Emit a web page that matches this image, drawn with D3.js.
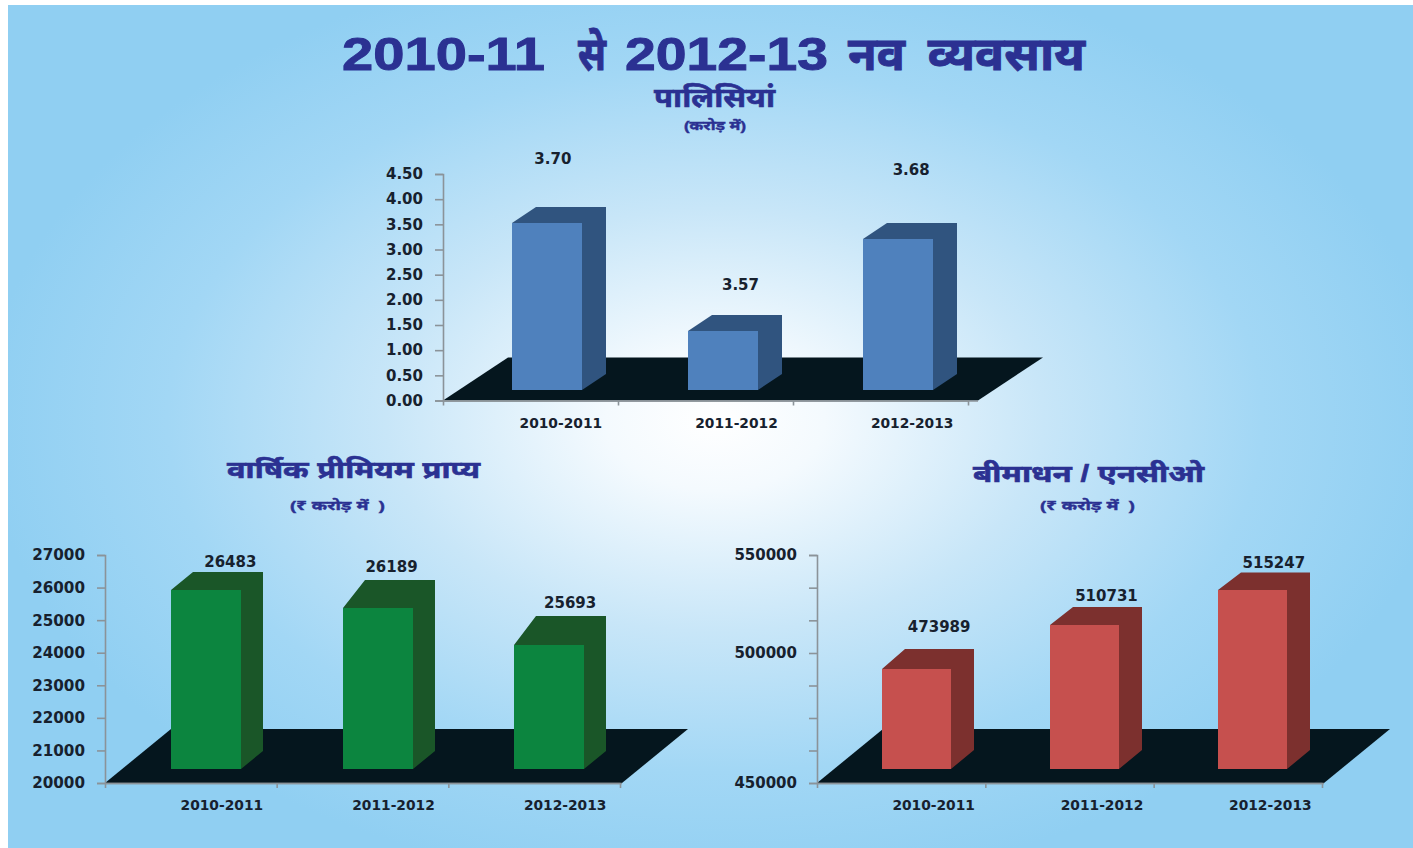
<!DOCTYPE html>
<html>
<head>
<meta charset="utf-8">
<script src="https://cdn.jsdelivr.net/npm/d3@7/dist/d3.min.js"></script>
<style>
html,body{margin:0;padding:0;background:#fff;overflow:hidden}
svg{display:block}
</style>
</head>
<body>
<svg id="chart" width="1413" height="848"></svg>
<script>
const categories = ["2010-2011", "2011-2012", "2012-2013"];

const policyBars = [3.52, 1.39, 3.21];
const policyLabels = ["3.70", "3.57", "3.68"];
const policyLabelLevels = [4.79, 2.29, 4.57];
const policyTicks = [0, 0.5, 1, 1.5, 2, 2.5, 3, 3.5, 4, 4.5];

const premiumBars = [25925, 25373, 24237];
const premiumLabels = ["26483", "26189", "25693"];
const premiumLabelLevels = [26755, 26601, 25496];
const premiumTicks = [20000, 21000, 22000, 23000, 24000, 25000, 26000, 27000];

const saBars = [493846, 514286, 532143];
const saLabels = ["473989", "510731", "515247"];
const saLabelLevels = [513000, 529000, 545500];
const saTicks = [450000, 462500, 475000, 487500, 500000, 516667, 533333, 550000];
const saTickLabels = [450000, 500000, 550000];

const svg = d3.select("#chart");
const devFont = "'Noto Sans','Noto Sans Devanagari','Lohit Devanagari','Mangal','Liberation Sans',sans-serif";
const numFont = "'DejaVu Sans',sans-serif";
const ink = "#17212e";
const titleBlue = "#2b3192";

const defs = svg.append("defs");
const grad = defs.append("radialGradient")
  .attr("id", "bg").attr("gradientUnits", "userSpaceOnUse")
  .attr("cx", 0).attr("cy", 0).attr("r", 1)
  .attr("gradientTransform", "translate(715,420) scale(730,470)");
[[0, "#ffffff"], [0.15, "#f4fafe"], [0.45, "#c8e6f8"], [0.75, "#a2d7f5"], [1, "#90cff2"]]
  .forEach(([o, c]) => grad.append("stop").attr("offset", o).attr("stop-color", c));
svg.append("rect").attr("x", 8).attr("y", 5).attr("width", 1405).attr("height", 843).attr("fill", "url(#bg)");

function drawChart(o) {
  const g = svg.append("g");
  const y = d3.scaleLinear().domain(o.yDomain).range(o.yRange);
  const x = d3.scaleBand().domain(categories).range(o.xRange).paddingInner(0.6).paddingOuter(0.3);
  const [x0, x1] = o.xRange;
  const yb = y.range()[0];
  const barW = Math.round(x.bandwidth()) + o.barExtra;

  // floor
  g.append("path")
    .attr("d", d3.line()([[x0, yb], [x0 + o.floorDx, yb - o.floorDy], [x1 + o.floorDx + o.floorExtra, yb - o.floorDy], [x1 + o.floorExtra, yb]]) + "Z")
    .attr("fill", "#05161e");

  // bars
  const bars = g.selectAll("g.bar").data(o.bars).join("g").attr("class", "bar");
  const left = (d, i) => Math.round(x(categories[i]) + o.barShift);
  const right = (d, i) => left(d, i) + barW;
  const base = Math.round(y(o.baseValue));
  const top = d => Math.round(y(d));
  bars.append("path").attr("fill", o.side)
    .attr("d", (d, i) => d3.line()([[left(d, i), top(d)], [left(d, i) + o.dx, top(d) - o.topDepth[i]], [right(d, i) + o.dx, top(d) - o.topDepth[i]], [right(d, i) + o.dx, base - o.dy], [right(d, i), base], [right(d, i), top(d)]]) + "Z");
  bars.append("rect").attr("fill", o.front)
    .attr("x", left).attr("y", top).attr("width", barW).attr("height", d => base - top(d));

  // value labels
  g.selectAll("text.val").data(o.labels).join("text").attr("class", "val")
    .attr("x", (d, i) => x(categories[i]) + x.bandwidth() / 2 + o.valShift[i])
    .attr("y", (d, i) => y(o.labelLevels[i]))
    .attr("text-anchor", "middle").attr("dominant-baseline", "middle")
    .attr("font-family", numFont).attr("font-weight", 700).attr("font-size", 15).attr("fill", ink)
    .text(d => d);

  // y axis
  const yAxis = g.append("g").attr("transform", `translate(${x0},0)`)
    .call(d3.axisLeft(y).tickValues(o.ticks).tickSize(8).tickPadding(12)
      .tickFormat(o.tickFormat));
  yAxis.selectAll("path,line").attr("stroke", "#8b9399").attr("stroke-width", 1.6);
  yAxis.selectAll("text").attr("font-family", numFont).attr("font-weight", 700).attr("font-size", o.tickFont).attr("fill", ink);

  // x axis
  const xb = d3.scaleLinear().domain([0, categories.length]).range(o.tickRange);
  const xAxis = g.append("g").attr("transform", `translate(0,${yb})`)
    .call(d3.axisBottom(xb).tickValues(d3.range(categories.length + 1)).tickSize(5).tickSizeOuter(0).tickFormat(""));
  xAxis.selectAll("path,line").attr("stroke", "#8b9399").attr("stroke-width", 1.6);
  g.append("line").attr("x1", x0).attr("x2", x1 + o.floorExtra).attr("y1", yb + 0.5).attr("y2", yb + 0.5)
    .attr("stroke", "#8b9399").attr("stroke-width", 1.6);
  g.selectAll("text.cat").data(categories).join("text").attr("class", "cat")
    .attr("x", d => x(d) + x.bandwidth() / 2 + o.catShift)
    .attr("y", yb + o.catGap)
    .attr("text-anchor", "middle").attr("dominant-baseline", "middle")
    .attr("font-family", numFont).attr("font-weight", 700).attr("font-size", 13.8).attr("fill", ink)
    .text(d => d);
}

drawChart({
  bars: policyBars, labels: policyLabels, labelLevels: policyLabelLevels, ticks: policyTicks,
  tickFormat: d3.format(".2f"), tickFont: 15,
  yDomain: [0, 4.5], yRange: [400.5, 174], xRange: [443, 970], tickRange: [443, 968], baseValue: 0.2,
  floorDx: 65, floorDy: 43, floorExtra: 8, dx: 24, dy: 16, topDepth: [16, 16, 16], barShift: 16.3, barExtra: 0,
  valShift: [22, 34, 29], catShift: 30, catGap: 23.5,
  front: "#4f81bd", side: "#30547f"
});
drawChart({
  bars: premiumBars, labels: premiumLabels, labelLevels: premiumLabelLevels, ticks: premiumTicks,
  tickFormat: d3.format("d"), tickFont: 15.2,
  yDomain: [20000, 27000], yRange: [783, 555], xRange: [105, 620], tickRange: [105, 620], baseValue: 20430,
  floorDx: 66, floorDy: 54, floorExtra: 2, dx: 22, dy: 18, topDepth: [18, 28, 29], barShift: 14.5, barExtra: 1,
  valShift: [39.5, 29, 36], catShift: 31, catGap: 23,
  front: "#0c853f", side: "#1a5628"
});
drawChart({
  bars: saBars, labels: saLabels, labelLevels: saLabelLevels, ticks: saTicks,
  tickFormat: d => saTickLabels.includes(d) ? d3.format("d")(d) : "", tickFont: 15,
  yDomain: [450000, 500000, 550000], yRange: [783, 653, 555], xRange: [817, 1322], tickRange: [817, 1322], baseValue: 455385,
  floorDx: 66, floorDy: 54, floorExtra: 2, dx: 23, dy: 19, topDepth: [20, 18, 17.5], barShift: 14, barExtra: 2,
  valShift: [38, 37, 36], catShift: 32.5, catGap: 23,
  front: "#c6504e", side: "#7c302e"
});

// main title: words with their printed left edge and width
const titleWords = [
  ["2010-11", 342, 203],
  ["से", 578, 28],
  ["2012-13", 625, 203],
  ["नव", 848, 57],
  ["व्यवसाय", 928, 157]
];
const mainTitle = svg.append("text").attr("y", 58)
  .attr("dominant-baseline", "middle")
  .attr("font-family", "'Liberation Sans',Arial," + devFont)
  .attr("font-size", 47).attr("font-weight", 700).attr("fill", titleBlue)
  .attr("stroke", titleBlue).attr("stroke-width", 0.9);
titleWords.forEach(([word, x, w], i) => {
  mainTitle.append("tspan").attr("x", x).attr("textLength", w).attr("lengthAdjust", "spacingAndGlyphs").text(word);
  if (i < titleWords.length - 1) mainTitle.append("tspan").text(" ");
});

// headings: text, centre x, y, size, printed width, stroke
const titles = [
  ["पालिसियां", 714.5, 100, 27, 121, 0.6],
  ["(करोड़ में)", 715, 126.5, 12, 62, 0.4],
  ["वार्षिक प्रीमियम प्राप्य", 353.5, 472, 24, 253, 0.6],
  ["(₹ करोड़ में  )", 337.5, 507, 13, 95, 0.4],
  ["बीमाधन / एनसीओ", 1088.5, 475.5, 24, 231, 0.6],
  ["(₹ करोड़ में  )", 1087.5, 507, 13, 95, 0.4]
];
svg.selectAll("text.title").data(titles).join("text").attr("class", "title")
  .attr("x", d => d[1]).attr("y", d => d[2])
  .attr("text-anchor", "middle").attr("dominant-baseline", "middle")
  .style("white-space", "pre")
  .attr("textLength", d => d[4]).attr("lengthAdjust", "spacingAndGlyphs")
  .attr("font-family", "'Liberation Sans',Arial," + devFont)
  .attr("font-size", d => d[3]).attr("font-weight", 700).attr("fill", titleBlue)
  .attr("stroke", titleBlue).attr("stroke-width", d => d[5])
  .text(d => d[0]);
</script>
</body>
</html>
